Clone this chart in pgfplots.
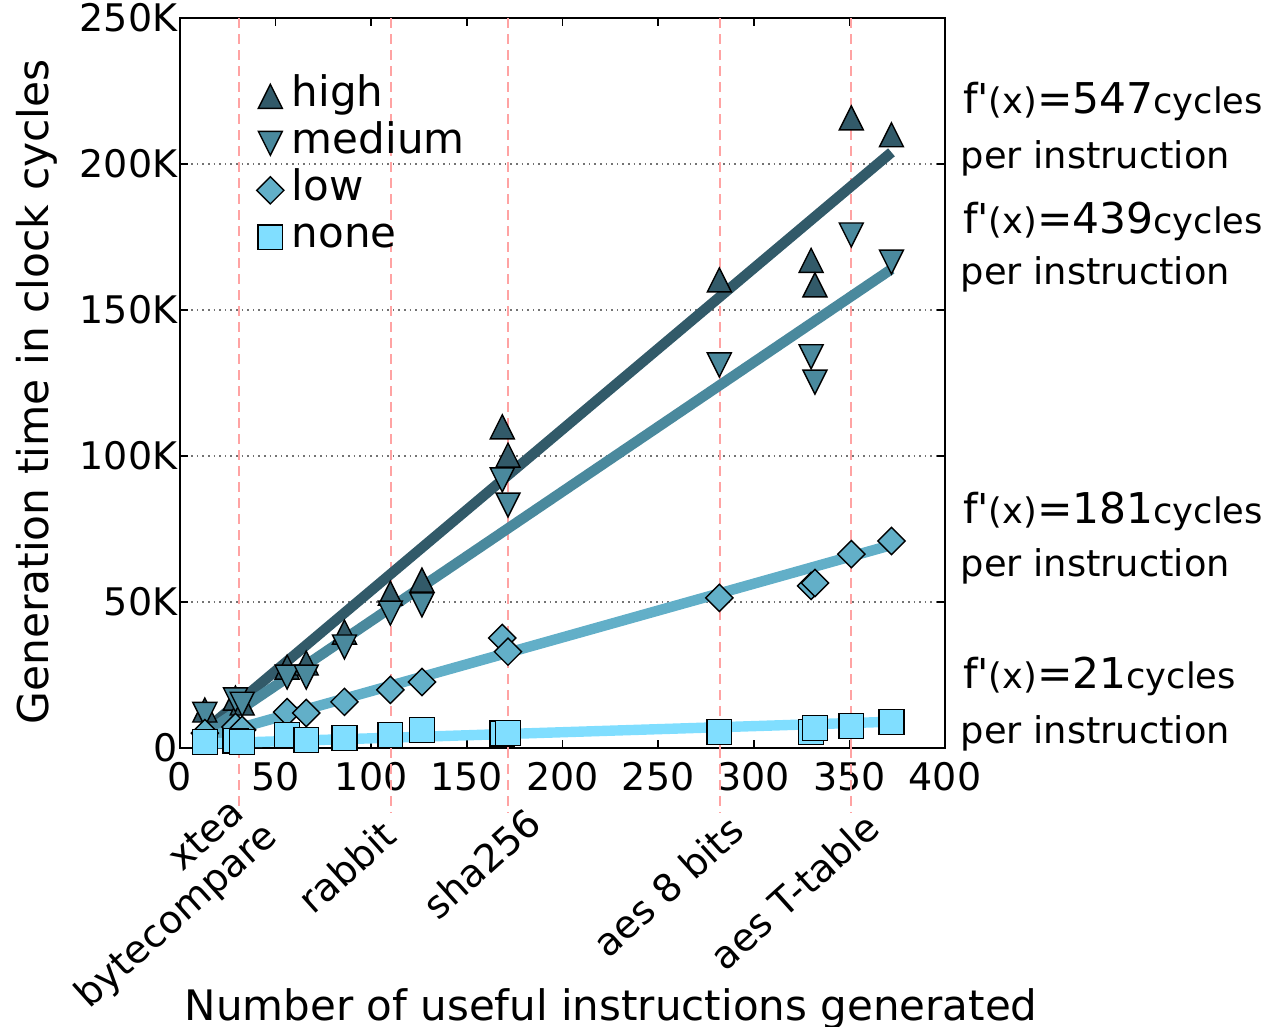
\documentclass[border=0pt]{standalone}
\usepackage{fontspec}
\setmainfont{DejaVu Sans}
\newfontfamily\rawfont{DejaVu Sans}
\usepackage{pgfplots}
\pgfplotsset{compat=1.18}

\definecolor{chigh}{HTML}{325A69}
\definecolor{cmed}{HTML}{4A899D}
\definecolor{clow}{HTML}{62AFC8}
\definecolor{cnone}{HTML}{80DEFF}
\definecolor{bench}{HTML}{FFA3A3}

% matplotlib-like markers
\pgfdeclareplotmark{tup}{%
  \pgfpathmoveto{\pgfqpoint{0pt}{\pgfplotmarksize}}%
  \pgfpathlineto{\pgfqpoint{-\pgfplotmarksize}{-\pgfplotmarksize}}%
  \pgfpathlineto{\pgfqpoint{\pgfplotmarksize}{-\pgfplotmarksize}}%
  \pgfpathclose\pgfusepathqfillstroke}
\pgfdeclareplotmark{tdown}{%
  \pgfpathmoveto{\pgfqpoint{0pt}{-\pgfplotmarksize}}%
  \pgfpathlineto{\pgfqpoint{-\pgfplotmarksize}{\pgfplotmarksize}}%
  \pgfpathlineto{\pgfqpoint{\pgfplotmarksize}{\pgfplotmarksize}}%
  \pgfpathclose\pgfusepathqfillstroke}
\pgfdeclareplotmark{dia}{%
  \pgfpathmoveto{\pgfqpoint{0pt}{\pgfplotmarksize}}%
  \pgfpathlineto{\pgfqpoint{\pgfplotmarksize}{0pt}}%
  \pgfpathlineto{\pgfqpoint{0pt}{-\pgfplotmarksize}}%
  \pgfpathlineto{\pgfqpoint{-\pgfplotmarksize}{0pt}}%
  \pgfpathclose\pgfusepathqfillstroke}

\newcommand{\fx}[1]{{\fontsize{10.3}{12}\rawfont f'}{\fontsize{8.8}{10}\selectfont(x)}{\fontsize{10.6}{12}\selectfont=#1}{\fontsize{8.8}{10}\selectfont cycles}}

\begin{document}
\begin{tikzpicture}
\begin{axis}[scale only axis, width=191.25pt, height=182.5pt,
  xmin=0, xmax=400, ymin=0, ymax=250000,
  xtick={0,50,...,400}, ytick={0,50000,...,250000},
  yticklabels={0,50K,100K,150K,200K,250K},
  scaled y ticks=false,
  tick align=inside, major tick length=2pt,
  tick style={black, line width=0.4pt},
  axis line style={line width=0.5pt},
  ymajorgrids, grid style={densely dotted, gray!90!black, line width=0.35pt},
  tick label style={font=\fontsize{9.5}{11}\selectfont},
  /pgf/number format/assume math mode=true,
  yticklabel style={inner sep=0pt, xshift=-0.5pt},
  clip mode=individual,
  legend style={draw=none, fill=none, at={(axis cs:39.7,231500)}, anchor=north west,
    inner sep=0pt, font=\fontsize{10.5}{12}\selectfont,
    nodes={inner sep=0.5pt, text height=8pt, text depth=2.75pt},
    row sep=0pt, column sep=1.5pt},
  legend cell align=left,
  legend image code/.code={\draw[#1] plot coordinates {(0pt,0pt)};}]

\coordinate (sw) at (rel axis cs:0,0);
\coordinate (ne) at (rel axis cs:1,1);

% benchmark reference lines
\foreach \b in {31,110.3,171.5,282.4,350.8}{
  \edef\tmp{\noexpand\addplot[bench, dash pattern=on 2.5pt off 1.5pt, line width=0.5pt, forget plot]
    coordinates {(\b,0) (\b,250000)};}\tmp
  \edef\tmp{\noexpand\draw[bench, dash pattern=on 2.5pt off 1.5pt, line width=0.5pt]
    (axis cs:\b,0) -- (axis cs:\b,-22000);}\tmp
}

% linear fits
\addplot[chigh, line width=2.6pt, forget plot] coordinates {(13,6000) (372,204000)};
\addplot[cmed, line width=2.6pt, forget plot] coordinates {(13,5000) (372,164000)};
\addplot[clow, line width=2.6pt, forget plot] coordinates {(13,3500) (372,69500)};
\addplot[cnone, line width=2.6pt, forget plot] coordinates {(13,1500) (372,9000)};

\addplot[only marks, mark=tup, mark size=3pt, mark options={fill=chigh, draw=black, line width=0.35pt}] table {
13 13000
29 17100
32.5 15400
56 27700
66 29100
86 39700
110 53000
126.5 57500
168.5 110000
171.5 100300
282 160300
330 167000
332 158600
351 215800
372 210000
};
\addlegendentry{high}
\addplot[only marks, mark=tdown, mark size=3pt, mark options={fill=cmed, draw=black, line width=0.35pt}] table {
13 11500
29 16500
32.5 15000
56 24300
66 24300
86 34600
110 46200
126.5 49000
168.5 91800
171.5 83200
282 131200
330 134000
332 125300
351 175700
372 166400
};
\addlegendentry{medium}
\addplot[only marks, mark=dia, mark size=3.4pt, mark options={fill=clow, draw=black, line width=0.35pt}] table {
13 5100
29 7200
32.5 6200
56 12300
66 12000
86 15800
110 19900
126.5 22600
168.5 37700
171.5 33000
282 51400
330 55500
332 56500
351 66400
372 70900
};
\addlegendentry{low}
\addplot[only marks, mark=square*, mark size=3.1pt, mark options={fill=cnone, draw=black, line width=0.35pt}] table {
13 2000
29 2500
32.5 2000
56 4500
66 2700
86 3400
110 4500
126.5 6200
168.5 5000
171.5 5100
282 5500
330 5500
332 6800
351 7500
372 8900
};
\addlegendentry{none}

% benchmark names
\begin{scope}[every node/.style={rotate=42, inner sep=0pt, anchor=south east, font=\fontsize{9.6}{10}\selectfont}]
\node[align=right] at (axis cs:55,-33500) {xtea\hspace*{2pt}\\bytecompare};
\node at (axis cs:115,-31500) {rabbit};
\node at (axis cs:191,-27100) {sha256};
\node at (axis cs:297,-29800) {aes 8 bits};
\node at (axis cs:368,-28800) {aes T-table};
\end{scope}

% axis titles
\node[anchor=base, inner sep=0pt, font=\fontsize{10.5}{12}\selectfont] at (axis cs:225.4,-93200) {Number of useful instructions generated};
\node[anchor=base, rotate=90, inner sep=0pt, font=\fontsize{10.6}{12}\selectfont] at (axis cs:-69,121900) {Generation time in clock cycles};

% slope annotations
\begin{scope}[every node/.style={anchor=base west, inner sep=0pt, font=\fontsize{9.2}{11}\selectfont}]
\node at (axis cs:409,217400) {\fx{547}};
\node at (axis cs:407.8,198500) {per instruction};
\node at (axis cs:409,176300) {\fx{439}};
\node at (axis cs:407.8,158600) {per instruction};
\node at (axis cs:409,77000) {\fx{181}};
\node at (axis cs:407.8,58700) {per instruction};
\node at (axis cs:409,20400) {\fx{21}};
\node at (axis cs:407.8,1600) {per instruction};
\end{scope}
\end{axis}
\pgfresetboundingbox
\path ([xshift=-45pt,yshift=-69.5pt]sw) rectangle ([xshift=83.25pt,yshift=4.5pt]ne);
\end{tikzpicture}
\end{document}
